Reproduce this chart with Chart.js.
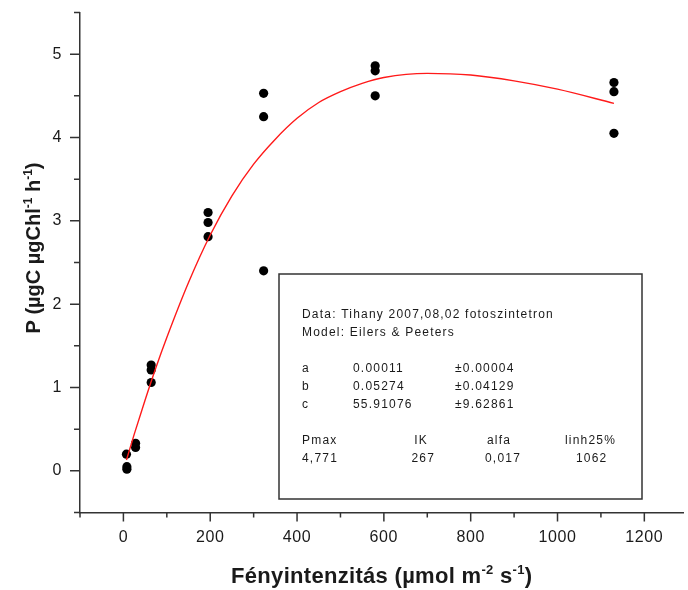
<!DOCTYPE html>
<html>
<head>
<meta charset="utf-8">
<script src="https://cdn.jsdelivr.net/npm/chart.js@4.4.1/dist/chart.umd.min.js"></script>
<style>
  html, body { margin: 0; padding: 0; background: #fff; overflow: hidden; }
  #wrap { width: 688px; height: 590px; position: relative; }
</style>
</head>
<body>
<div id="wrap"><canvas id="c"></canvas></div>
<script>
// measured points (light intensity, production)
const pointX = [7, 8, 8, 28, 28, 64, 64, 64, 195, 195, 195, 323, 323, 323, 580, 580, 580, 1130, 1130, 1130];
const pointY = [0.20, 0.05, 0.02, 0.33, 0.28, 1.27, 1.21, 1.06, 3.10, 2.98, 2.81, 4.53, 4.25, 2.40, 4.86, 4.80, 4.50, 4.66, 4.55, 4.05];

// fitted curve
const curveX = [7, 25, 50, 75, 100, 150, 200, 250, 300, 350, 400, 450, 500, 550, 600, 700, 800, 900, 1000, 1130];
const curveY = [0.13, 0.44, 0.85, 1.24, 1.60, 2.26, 2.83, 3.30, 3.68, 3.98, 4.23, 4.42, 4.55, 4.65, 4.72, 4.77, 4.75, 4.68, 4.58, 4.41];

// axis ticks
const xMajor = [0, 200, 400, 600, 800, 1000, 1200];
const xMinor = [-100, 100, 300, 500, 700, 900, 1100];
const yMajor = [0, 1, 2, 3, 4, 5];
const yMinor = [-0.5, 0.5, 1.5, 2.5, 3.5, 4.5, 5.5];

// fit report lines
const infoHead = ['Data: Tihany 2007,08,02 fotoszintetron', 'Model: Eilers & Peeters'];
const paramNames = ['a', 'b', 'c'];
const paramValues = ['0.00011', '0.05274', '55.91076'];
const paramErrors = ['±0.00004', '±0.04129', '±9.62861'];
const statNames = ['Pmax', 'IK', 'alfa', 'linh25%'];
const statValues = ['4,771', '267', '0,017', '1062'];

const FONT = '"Liberation Sans", Arial, sans-serif';
const INK = '#1a1a1a';

function richText(ctx, x, y, parts, size, align) {
  // parts: [text, isSup]
  let total = 0;
  parts.forEach(p => {
    ctx.font = 'bold ' + (p[1] ? Math.round(size * 0.6) : size) + 'px ' + FONT;
    total += ctx.measureText(p[0]).width;
  });
  let cx = align === 'center' ? x - total / 2 : x;
  parts.forEach(p => {
    ctx.font = 'bold ' + (p[1] ? Math.round(size * 0.6) : size) + 'px ' + FONT;
    ctx.fillText(p[0], cx, p[1] ? y - size * 0.42 : y);
    cx += ctx.measureText(p[0]).width;
  });
}

const decorPlugin = {
  id: 'decor',
  beforeDraw(chart) {
    chart.ctx.letterSpacing = '0.6px';
  },
  afterDraw(chart) {
    const ctx = chart.ctx;
    ctx.letterSpacing = '0px';
    const xs = chart.scales.x, ys = chart.scales.y;
    const area = chart.chartArea;
    ctx.save();
    ctx.strokeStyle = '#333';
    ctx.lineWidth = 1.5;
    ctx.beginPath();
    xMajor.forEach(v => { const p = xs.getPixelForValue(v); ctx.moveTo(p, area.bottom); ctx.lineTo(p, area.bottom + 9); });
    xMinor.forEach(v => { const p = xs.getPixelForValue(v); ctx.moveTo(p, area.bottom); ctx.lineTo(p, area.bottom + 5); });
    yMajor.forEach(v => { const p = ys.getPixelForValue(v); ctx.moveTo(area.left, p); ctx.lineTo(area.left - 10, p); });
    yMinor.forEach(v => { const p = ys.getPixelForValue(v); ctx.moveTo(area.left, p); ctx.lineTo(area.left - 6, p); });
    ctx.stroke();

    // axis titles
    ctx.fillStyle = INK;
    ctx.textBaseline = 'alphabetic';
    ctx.textAlign = 'left';
    ctx.letterSpacing = '0.3px';
    richText(ctx, (area.left + area.right) / 2, 583,
      [['Fényintenzitás (µmol m', false], ['-2', true], [' s', false], ['-1', true], [')', false]], 22, 'center');
    ctx.letterSpacing = '0px';
    ctx.save();
    ctx.translate(40, 248);
    ctx.rotate(-Math.PI / 2);
    richText(ctx, 0, 0,
      [['P (µgC µgChl', false], ['-1', true], [' h', false], ['-1', true], [')', false]], 20, 'center');
    ctx.restore();

    // fit report box
    const bx = 279, by = 274, bw = 363, bh = 225;
    ctx.lineWidth = 1.5;
    ctx.strokeStyle = '#333';
    ctx.fillStyle = '#fff';
    ctx.fillRect(bx, by, bw, bh);
    ctx.strokeRect(bx, by, bw, bh);
    ctx.fillStyle = INK;
    ctx.font = '12px ' + FONT;
    ctx.letterSpacing = '1.2px';
    ctx.textBaseline = 'middle';
    const lx = bx + 23;
    infoHead.forEach((t, i) => ctx.fillText(t, lx, by + 41 + i * 18));
    paramNames.forEach((t, i) => {
      const yy = by + 95 + i * 18;
      ctx.fillText(t, lx, yy);
      ctx.fillText(paramValues[i], bx + 74, yy);
      ctx.fillText(paramErrors[i], bx + 176, yy);
    });
    const colX = [lx, bx + 149, bx + 208, bx + 286];
    const colAlign = ['left', 'right', 'left', 'left'];
    statNames.forEach((t, i) => { ctx.textAlign = colAlign[i]; ctx.fillText(t, colX[i], by + 167); });
    const valX = [lx, bx + 156, bx + 206, bx + 297];
    statValues.forEach((t, i) => { ctx.textAlign = colAlign[i]; ctx.fillText(t, valX[i], by + 185); });
    ctx.restore();
    ctx.letterSpacing = '0px';
  }
};

function noPad(s) {
  s.paddingTop = 0; s.paddingBottom = 0; s.paddingLeft = 0; s.paddingRight = 0;
}

new Chart(document.getElementById('c'), {
  type: 'scatter',
  data: {
    datasets: [
      {
        data: pointX.map((x, i) => ({ x, y: pointY[i] })),
        backgroundColor: '#000',
        borderColor: '#000',
        pointRadius: 4.6,
        pointBorderWidth: 0,
        order: 1
      },
      {
        type: 'line',
        data: curveX.map((x, i) => ({ x, y: curveY[i] })),
        borderColor: '#ff1a1a',
        borderWidth: 1.4,
        pointRadius: 0,
        fill: false,
        cubicInterpolationMode: 'monotone',
        order: 0
      }
    ]
  },
  options: {
    responsive: true,
    maintainAspectRatio: false,
    animation: false,
    layout: { padding: { top: 12.5, right: 0, bottom: 0, left: 0 } },
    plugins: { legend: { display: false }, tooltip: { enabled: false } },
    scales: {
      x: {
        type: 'linear',
        min: -100,
        max: 1290,
        afterBuildTicks: s => { s.ticks = xMajor.map(v => ({ value: v })); },
        afterFit: s => { s.height = 77.5; noPad(s); },
        grid: { display: false, drawTicks: false },
        border: { display: true, color: '#333', width: 1.5 },
        ticks: { padding: 15, color: INK, font: { family: FONT, size: 16 }, maxRotation: 0, callback: v => String(v) }
      },
      y: {
        type: 'linear',
        min: -0.5,
        max: 5.5,
        afterBuildTicks: s => { s.ticks = yMajor.map(v => ({ value: v })); },
        afterFit: s => { s.width = 80; noPad(s); },
        grid: { display: false, drawTicks: false },
        border: { display: true, color: '#333', width: 1.5 },
        ticks: { padding: 18, color: INK, font: { family: FONT, size: 16 }, callback: v => String(v) }
      }
    }
  },
  plugins: [decorPlugin]
});
</script>
</body>
</html>
